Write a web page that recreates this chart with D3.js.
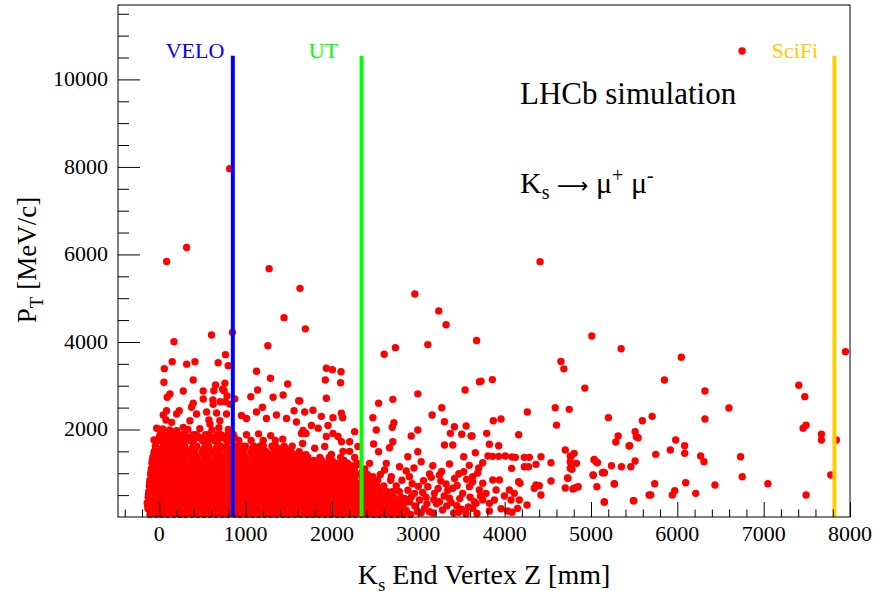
<!DOCTYPE html>
<html>
<head>
<meta charset="utf-8">
<script src="https://cdn.jsdelivr.net/npm/d3@7"></script>
<style>
  html, body { margin: 0; padding: 0; background: #fff; }
  svg { display: block; }
</style>
</head>
<body>
<svg></svg>
<script>
// K_s end vertex Z (mm) vs P_T (MeV/c), LHCb simulation

const xMajorTicks = [0, 1000, 2000, 3000, 4000, 5000, 6000, 7000, 8000];
const yMajorTicks = [2000, 4000, 6000, 8000, 10000];

const detectorNames = ["VELO", "UT", "SciFi"];
const detectorZ = [852, 2343, 7820];
const detectorLabelZ = [74, 1732, 7094];
const detectorColors = ["#0000ff", "#00ff00", "#ffcc00"];
const detectorTop = 10540;

// the dense core, one row of z values per P_T level
const denseRowPt = [60, 125, 190, 255, 320, 385, 450, 515, 580, 645, 710, 775, 840, 905, 970, 1035, 1100, 1165, 1230, 1295, 1360, 1425, 1490, 1555, 1620, 1750, 1815, 1880];
const denseRowZ = [
  [-108,-40,27,96,168,239,306,379,447,519,588,657,731,799,872,938,1011,1079,1152,1218,1291,1359,1432,1497,1569,1638,1711,1779,1848,1921,1989,2062,2128,2201,2269,2342,2408,2481,2549,2622,2688,2761,2829],
  [-90,-22,47,118,186,255,325,396,464,535,604,676,745,816,885,957,1026,1097,1166,1236,1305,1378,1447,1517,1587,1656,1727,1796,1866,1936,2006,2077,2146,2217,2287,2356,2428,2497,2566,2638,2706,2777],
  [-130,-74,-5,64,131,203,272,341,413,482,553,621,694,763,834,903,976,1044,1117,1186,1254,1327,1396,1468,1537,1604,1677,1746,1813,1886,1954,2027,2093,2166,2234,2306,2373,2446,2513,2587,2652,2724,2790],
  [-135,-60,10,80,150,220,290,360,430,500,570,640,712,780,850,920,992,1060,1132,1200,1272,1340,1412,1480,1552,1622,1692,1762,1830,1902,1970,2042,2110,2180,2252,2322,2390,2462,2530,2600,2670,2740,2815],
  [-140,-92,-41,31,99,172,238,311,377,449,516,591,658,727,801,866,941,1007,1081,1148,1219,1286,1361,1427,1502,1568,1641,1707,1782,1849,1918,1992,2058,2131,2199,2271,2338,2410,2476,2551,2617,2689,2770,2840],
  [-110,-55,15,84,153,224,290,361,430,500,569,640,709,783,849,923,990,1064,1131,1203,1270,1345,1410,1486,1551,1624,1690,1765,1832,1900,1974,2041,2113,2181,2254,2320,2393,2460,2533,2600,2672,2742],
  [-128,-72,-3,68,134,207,269,344,411,486,549,624,691,767,831,906,973,1048,1113,1189,1251,1330,1393,1471,1534,1607,1674,1749,1816,1883,1957,2024,2096,2163,2237,2302,2377,2443,2516,2583,2655,2715,2800],
  [-125,-55,15,85,152,225,290,362,430,502,568,640,710,780,850,925,990,1060,1130,1200,1272,1345,1415,1485,1552,1622,1692,1762,1832,1900,1972,2045,2110,2185,2252,2322,2392,2462,2540,2610,2690],
  [-122,-37,33,102,169,242,308,381,446,521,586,661,728,797,869,944,1009,1077,1154,1216,1293,1357,1434,1499,1571,1636,1713,1777,1851,1919,1987,2064,2126,2203,2267,2344,2405,2479,2560,2640,2700,2780],
  [-100,-52,18,87,152,225,292,364,428,505,569,644,709,783,849,926,990,1064,1132,1204,1270,1345,1412,1487,1551,1623,1692,1764,1832,1904,1970,2047,2108,2187,2250,2326,2390,2464,2540],
  [-115,-70,0,71,137,209,276,347,409,488,552,627,689,769,829,908,971,1051,1111,1192,1248,1333,1391,1474,1532,1611,1672,1752,1813,1889,1952,2031,2091,2171,2232,2309,2372,2448,2520,2600,2745],
  [-112,-50,20,88,155,226,292,364,428,505,569,644,707,782,850,927,988,1067,1134,1203,1272,1345,1414,1485,1553,1622,1694,1763,1833,1902,1972,2049,2106,2190,2248,2330,2420,2500],
  [-108,-34,36,104,173,244,304,383,444,523,582,664,725,795,873,946,1006,1083,1157,1214,1296,1355,1437,1494,1574,1633,1716,1774,1854,1914,1992,2067,2121,2208,2263,2349,2390,2460,2530,2680,2810],
  [-85,-16,55,122,192,262,328,397,462,537,600,676,735,812,869,928,989,1070,1132,1203,1270,1346,1412,1486,1553,1630,1690,1773,1833,1902,1970,2051,2104,2191,2255,2365],
  [-100,-67,4,73,140,212,279,350,406,491,555,630,686,772,826,911,968,1054,1108,1195,1245,1336,1388,1477,1529,1614,1669,1755,1810,1893,1948,2035,2088,2175,2247,2320,2410,2560],
  [-96,-48,21,90,158,230,290,368,424,508,567,648,704,782,851,930,986,1070,1134,1203,1272,1344,1414,1484,1553,1622,1694,1763,1833,1902,1972,2053,2103,2182,2254,2350],
  [-92,-31,39,107,176,247,301,386,441,526,579,667,722,792,876,949,1003,1086,1160,1211,1299,1352,1440,1491,1577,1630,1719,1771,1857,1911,1998,2072,2118,2190,2260,2380],
  [-70,-12,57,125,196,264,327,397,458,540,600,676,735,807,869,940,1010,1080,1150,1220,1290,1360,1430,1500,1570,1640,1712,1782,1852,1920,1993,2075,2145,2235],
  [-85,-63,8,76,143,215,282,353,403,494,558,633,683,775,823,914,965,1057,1105,1198,1242,1339,1385,1480,1526,1617,1666,1758,1807,1896,1945,2040,2110,2180,2290],
  [-80,-45,25,93,161,232,290,371,420,511,567,651,701,782,851,933,983,1073,1134,1203,1271,1344,1414,1484,1553,1622,1694,1790,1880,2000,2140],
  [-75,-28,42,110,179,250,298,389,438,529,576,670,719,789,879,952,1000,1089,1163,1208,1302,1349,1443,1488,1580,1627,1722,1860,1968,2100],
  [-55,25,95,162,235,290,372,418,513,568,653,700,784,850,935,981,1075,1132,1220,1290,1362,1415,1500,1560,1640,1700],
  [-60,11,79,146,218,285,356,400,497,561,636,680,778,820,917,962,1060,1102,1201,1239,1342,1382,1483,1523,1620],
  [-40,30,97,165,236,290,375,416,515,566,655,698,782,851,936,980,1076,1135,1185,1325,1396,1466],
  [-45,45,113,182,253,295,392,435,532,573,673,716,786,882,955,997,1092,1166,1205,1305,1346,1446,1540],
  [-25,14,82,149,221,288,359,397,500,564,639,677,781,817,920,1063,1204,1344],
  [0,65,135,200,275,340,415,465,550,605,655,720,800,870],
  [10,48,116,185,256,292,395,432,535,570,676,713,790,859]
];

// points read one by one outside the core
const sparsePoints = [
  [6750,10650],[815,7960],[85,5840],[317,6160],[1272,5675],[1630,5225],[1445,4555],[1692,4300],
  [2960,5095],[4410,5835],[3237,4710],[3322,4395],[605,4160],[848,4220],[170,4005],[1257,3915],
  [3110,3940],[2605,3720],[2735,3870],[3675,4035],[767,3710],[5010,4135],[5349,3845],[6046,3650],
  [7947,3778],[4652,3555],[4686,3385],[3727,3105],[3858,3140],[5850,3130],[6320,2880],[7407,3010],
  [7476,2750],[4929,2945],[6598,2490],[4586,2495],[4748,2460],[4262,2400],[3869,2200],[3958,2240],
  [4601,2100],[5202,2270],[5595,2200],[5708,2300],[6320,2240],[7457,2030],[7491,2100],[7669,1890],
  [7669,1760],[7843,1760],[7777,960],[7491,503],[7049,760],[6733,1378],[6752,920],[6436,730],
  [6213,541],[6097,784],[6270,1394],[6309,1264],[6085,1629],[6085,1455],[5981,1759],[5919,1531],
  [5750,1432],[5738,761],[5692,503],[5942,503],[5970,601],[5496,373],[5272,761],[5441,1622],
  [5511,1949],[5526,1835],[5288,1714],[5315,1851],[5025,960],[5133,1012],[5156,1012],[5064,1250],
  [5037,1302],[5237,1172],[5353,1150],[5461,1150],[5511,1280],[5156,343],[5068,693],[4537,1241],
  [4537,823],[4421,1378],[4421,503],[3792,1912],[3623,1851],[4162,1881],[5546,1812],[5449,1629],
  [3823,1661],[3931,1629],[4702,1531],[3661,1469],[3807,1394],[3861,1386],[3931,1386],[4008,1394],
  [4085,1371],[4124,1363],[4228,1363],[4286,1363],[3746,1241],[4768,1378],[4768,1226],[4779,1089],
  [4832,1226],[4363,1203],[4228,1150],[4277,1150],[4081,1112],[5037,1317],[5075,1241],[5145,1021],
  [5026,953],[4728,891],[5269,754],[4702,663],[4806,656],[4852,693],[4363,731],[4343,656],
  [4401,715],[4162,807],[4178,770],[4259,274],[5153,343],[5491,373],[5673,503],[4806,1455],
  [4760,1394],[4760,1264],[4760,1112],[4733,884],[4832,678],[4791,640],
  [2898,921],[2956,541],[2898,350],[3014,388],[3072,198],[3033,98],[3110,693],[3187,541],
  [3149,906],[3245,960],[3130,983],[3168,1172],[3033,1264],[3361,1211],[3245,350],[3341,609],
  [3399,656],[3514,541],[3468,107],[3650,350],[3592,693],[3526,1035],[3630,921],[3322,754],
  [3445,259],[3554,76],[3303,2178],[3418,2063],[3554,2079],[3611,1851],[3503,1890],[3372,1912],
  [3303,1645],[3399,1645],[2918,1851],[2994,1492],[2879,1378],[2667,1584],[2705,1721],[2540,1492],
  [2482,1668],[3526,1378],[2540,2598],[2474,2269],[2717,2155],[2698,2050],[2513,1988],[2994,1988],
  [3272,2498],[3160,2331],[2994,2814],[3542,2902],[3708,3092],[1923,3130],[2100,3069],[1935,2712],
  [1627,2650],[2705,2689],[2609,1073],[2687,921],[2436,1226],[2629,1226],[2783,1150],[2474,921],
  [3630,807],[3688,1005],[3746,770],[3707,618],[3785,541],[3746,388],[3669,312],[3630,198],
  [3823,312],[3881,388],[3901,618],[3939,845],[3862,845],[3997,480],[3958,190],[3823,137],
  [4054,618],[4074,388],[4112,541],[4035,137],[4170,388],[4085,107],[4150,198],
  [2860,150],[2880,610],[2930,760],[2960,250],[3060,830],[3090,450],[3130,120],[3210,300],
  [3280,160],[3300,480],[3380,330],[3420,880],[3480,420],[3580,230],[2860,1050],[2950,1120],
  [2910,60],[2990,120],[3050,560],[3100,300],[3170,90],[3230,650],[3260,820],[3330,250],
  [3360,430],[3410,90],[3450,720],[3500,180],[3560,860],[3600,450],[3680,80],[3720,480],
  [2850,420],[2920,460],[3000,700],[3180,400],[3270,1040],[3470,990],[3590,1180],[3700,1120],
  [58,3390],[150,3549],[317,3493],[413,3549],[682,3526],[798,3457],[1126,3330],[1288,3172],
  [1487,3039],[1935,3398],[2005,3367],[2105,3320],[54,3078],[393,3130],[278,2880],[124,2810],
  [92,2735],[509,2879],[509,2696],[652,3016],[632,2886],[733,2918],[760,3055],[751,2886],
  [621,2673],[705,2635],[760,2635],[785,2765],[1138,2902],[1060,2749],[1318,2735],[1434,2788],
  [1195,2507],[1615,2657],[1561,2429],[374,2507],[393,2598],[231,2429],[201,2354],[85,2429],
  [46,2331],[77,2216],[-30,2027],[-61,1759],[-61,1417],[875,2700],[952,2320],[1010,2250],
  [1126,2400],[1241,2250],[1357,2330],[1473,2250],[1665,1980],[1588,2170],[1684,2400],[1780,2440],
  [1877,2300],[2012,2270],[2109,2370],[2125,2270],[1762,2090],[1954,2090],[1840,2030],[1646,1910],
  [1700,1910],[2012,1910],[2070,1840],[2263,1950],[2205,1720],[2110,1720],[1935,1840],[1800,1570],
  [1916,1610],[1993,1430],[2128,1500],[2205,1500],[2301,1610],[1660,1680],[2263,1360],[2301,1200],
  [548,2399],[575,2216],[663,2376],[702,2201],[586,2125],[624,2574],[355,2201],[277,2049],
  [432,2353],[143,2163],[201,1973],[779,2353],[817,2580],[40,2010],[120,1990],[330,2000],
  [470,2020],[610,1990],[690,2040],[800,2000],[1010,1880],[1150,1900],[1290,1860],[1430,1780]
];

const width = 876, height = 591;
const margin = { top: 5, right: 26, bottom: 74, left: 118 };
const innerWidth = width - margin.left - margin.right;
const innerHeight = height - margin.top - margin.bottom;
const FONT = '"Liberation Serif", "Times New Roman", Times, serif';

const svg = d3.select("svg").attr("width", width).attr("height", height);

const xScale = d3.scaleLinear().domain([-478, 8000]).range([0, innerWidth]);
const yScale = d3.scaleLinear().domain([0, 11700]).range([innerHeight, 0]);

const chart = svg.append("g")
  .attr("transform", `translate(${margin.left},${margin.top})`);

// all points, core rows first
const points = [];
denseRowZ.forEach((row, i) => row.forEach((z) => points.push([z, denseRowPt[i]])));
sparsePoints.forEach((p) => points.push(p));

chart.append("g")
  .selectAll("circle")
  .data(points)
  .enter()
  .append("circle")
  .attr("cx", (d) => xScale(d[0]))
  .attr("cy", (d) => yScale(d[1]))
  .attr("r", 3.7)
  .attr("fill", "#ff0000");

// detector boundaries
chart.append("g")
  .selectAll("line")
  .data(detectorZ)
  .enter()
  .append("line")
  .attr("x1", (d) => xScale(d))
  .attr("x2", (d) => xScale(d))
  .attr("y1", yScale(0))
  .attr("y2", yScale(detectorTop))
  .attr("stroke", (_, i) => detectorColors[i])
  .attr("stroke-width", 4);

chart.append("g")
  .selectAll("text")
  .data(detectorNames)
  .enter()
  .append("text")
  .attr("x", (_, i) => xScale(detectorLabelZ[i]))
  .attr("y", yScale(detectorTop) + 2)
  .attr("fill", (_, i) => detectorColors[i])
  .style("font-family", FONT)
  .style("font-size", "22px")
  .text((d) => d);

// axes: tick marks from d3 axes, pointing into the frame
const xMinor = d3.range(-400, 8001, 200).filter((v) => v % 1000 !== 0);
const yMinor = d3.range(500, 11700, 500).filter((v) => v % 2000 !== 0);

const axisGroups = [
  chart.append("g").attr("transform", `translate(0,${innerHeight})`)
    .call(d3.axisBottom(xScale).tickValues(xMajorTicks).tickSizeInner(-15).tickSizeOuter(0)),
  chart.append("g").attr("transform", `translate(0,${innerHeight})`)
    .call(d3.axisBottom(xScale).tickValues(xMinor).tickSizeInner(-7.5).tickSizeOuter(0)),
  chart.append("g")
    .call(d3.axisLeft(yScale).tickValues(yMajorTicks).tickSizeInner(-22).tickSizeOuter(0)),
  chart.append("g")
    .call(d3.axisLeft(yScale).tickValues(yMinor).tickSizeInner(-11).tickSizeOuter(0))
];
axisGroups.forEach((g) => {
  g.select(".domain").remove();
  g.selectAll("text").remove();
  g.selectAll(".tick line").attr("stroke", "#000");
});

// tick labels
chart.append("g")
  .selectAll("text")
  .data(xMajorTicks)
  .enter()
  .append("text")
  .attr("x", (d) => xScale(d))
  .attr("y", innerHeight + 24)
  .attr("text-anchor", "middle")
  .attr("fill", "#000")
  .style("font-family", FONT)
  .style("font-size", "22px")
  .text((d) => d);

chart.append("g")
  .selectAll("text")
  .data(yMajorTicks)
  .enter()
  .append("text")
  .attr("x", -10)
  .attr("y", (d) => yScale(d) + 7)
  .attr("text-anchor", "end")
  .attr("fill", "#000")
  .style("font-family", FONT)
  .style("font-size", "22px")
  .text((d) => d);

chart.append("rect")
  .attr("width", innerWidth)
  .attr("height", innerHeight)
  .attr("fill", "none")
  .attr("stroke", "#000")
  .attr("stroke-width", 1);

// text made of pieces (sub/superscripts), each piece its own <text>
function pieces(parent, parts, anchor) {
  const g = parent.append("g");
  let x = 0;
  parts.forEach(([t, size, dy, family]) => {
    const el = g.append("text")
      .attr("x", x)
      .attr("y", dy)
      .attr("fill", "#000")
      .style("font-family", family || FONT)
      .style("font-size", size + "px")
      .style("white-space", "pre")
      .text(t);
    x += el.node().getComputedTextLength();
  });
  if (anchor === "middle") g.selectAll("text").attr("x", function () { return +this.getAttribute("x") - x / 2; });
  return g;
}

pieces(svg.append("g").attr("transform", "translate(484,584)"),
  [["K", 28, 0], ["s", 19, 7], ["\u00a0End Vertex Z [mm]", 28, 0]], "middle");

pieces(svg.append("g").attr("transform", "translate(36,260) rotate(-90)"),
  [["P", 27, 0], ["T", 19, 7], ["\u00a0[MeV/c]", 27, 0]], "middle");

svg.append("text")
  .attr("x", 520)
  .attr("y", 104)
  .style("font-family", FONT)
  .style("font-size", "31px")
  .text("LHCb simulation");

pieces(svg.append("g").attr("transform", "translate(520,193)"),
  [["K", 30, 0], ["s", 20, 6], ["\u00a0", 30, 0], ["\u27f6", 22, 0, '"DejaVu Sans", sans-serif'],
   ["\u00a0\u03bc", 30, 0], ["+", 20, -11], ["\u00a0\u03bc", 30, 0], ["-", 20, -11]], "start");
</script>
</body>
</html>
